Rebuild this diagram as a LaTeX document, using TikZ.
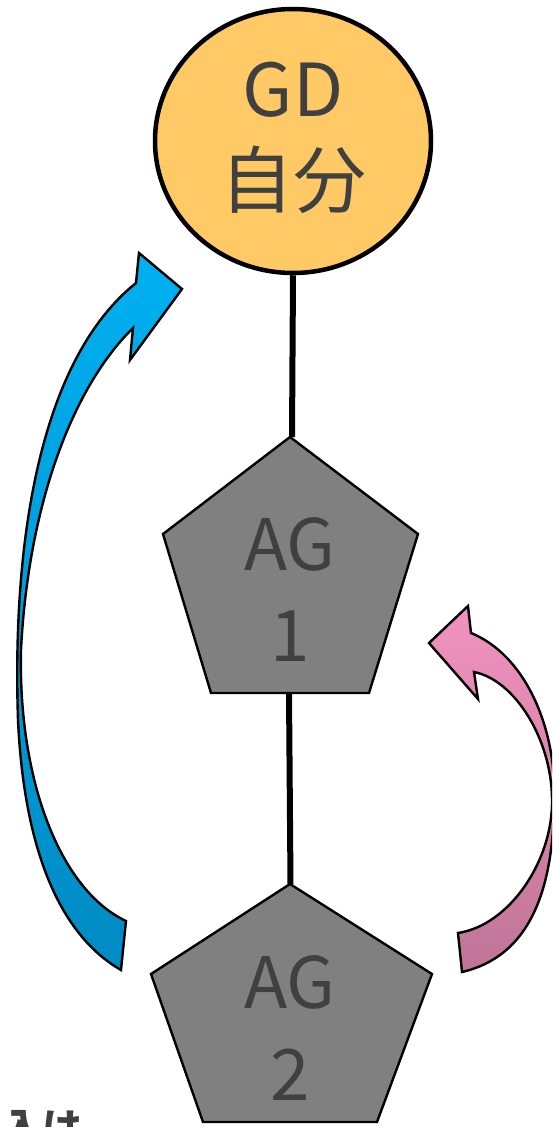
\documentclass[tikz,border=0pt]{standalone}
\usepackage{fontspec}
\newfontfamily\jp{Noto Sans CJK JP}
\usetikzlibrary{shapes.geometric}
\definecolor{gdfill}{HTML}{FFC966}
\definecolor{txt}{HTML}{404040}
\definecolor{agfill}{HTML}{808080}
\definecolor{bluetop}{HTML}{00B0F0}
\definecolor{bluebot}{HTML}{008BC3}
\definecolor{pinktop}{HTML}{F092BF}
\definecolor{pinkbot}{HTML}{BF7597}
\begin{document}
\begin{tikzpicture}[x=1pt,y=-1pt,
  bigtext/.style={font=\jp\fontsize{73}{91}\selectfont, text=txt, align=center, inner sep=0pt},
  agshape/.style={draw=black, line width=2.4pt, fill=agfill, line join=miter},
  link/.style={draw=black, line width=6pt},
  curvarrow/.style={draw=black, line width=2.4pt, line join=miter}]
\clip (0,0) rectangle (552,1127);
\fill[white] (0,0) rectangle (552,1127);

% blue curved arrow
\path[curvarrow, top color=bluetop, bottom color=bluebot]
  (121,970) .. controls (60,935) and (24,850) .. (18,720)
  .. controls (12,540) and (40,360) .. (136,283)
  -- (139,253) -- (182,289) -- (130,360) -- (133,328)
  .. controls (70,390) and (28,510) .. (21,650)
  .. controls (18,780) and (60,890) .. (126,921) -- cycle;

% pink curved arrow
\path[curvarrow, top color=pinktop, bottom color=pinkbot]
  (458,933) .. controls (510,925) and (553,860) .. (552,800)
  .. controls (552,740) and (515,680) .. (474,672)
  -- (478,699) -- (429,643) -- (468,606) -- (471,633)
  .. controls (525,655) and (553,725) .. (554,785)
  .. controls (556,880) and (535,955) .. (462,972) -- cycle;

% GD ellipse
\node[ellipse, draw=black, line width=4.5pt, fill=gdfill, minimum width=276pt,
      minimum height=264pt, inner sep=0pt] (gd) at (293,141) {};
\node[bigtext] (gdtext) at (293,138) {GD\\自分};

% pentagons
\coordinate (p1top) at (292,437);
\coordinate (p1bot) at (289,693);
\coordinate (p2top) at (290.5,884);
\path[agshape] (290,437) -- (418,534) -- (369,693) -- (211,693) -- (163,534) -- cycle;
\path[agshape] (290,884) -- (432,974) -- (377,1122) -- (203,1122) -- (151,974) -- cycle;
\node[bigtext, font=\jp\fontsize{71}{91}\selectfont] (ag1) at (290,589.5) {AG\\1};
\node[bigtext, font=\jp\fontsize{71}{92}\selectfont] (ag2) at (290,1028.5) {AG\\2};

% links
\draw[link] (gd.south) -- (p1top);
\draw[link] (p1bot) -- (p2top);

% cut-off note (cut by the lower edge, as in the reference)
\node[anchor=base west, inner sep=0pt, text=txt, font=\jp\bfseries\fontsize{40}{48}\selectfont] (note) at (2,1142) {入は};
\end{tikzpicture}
\end{document}
